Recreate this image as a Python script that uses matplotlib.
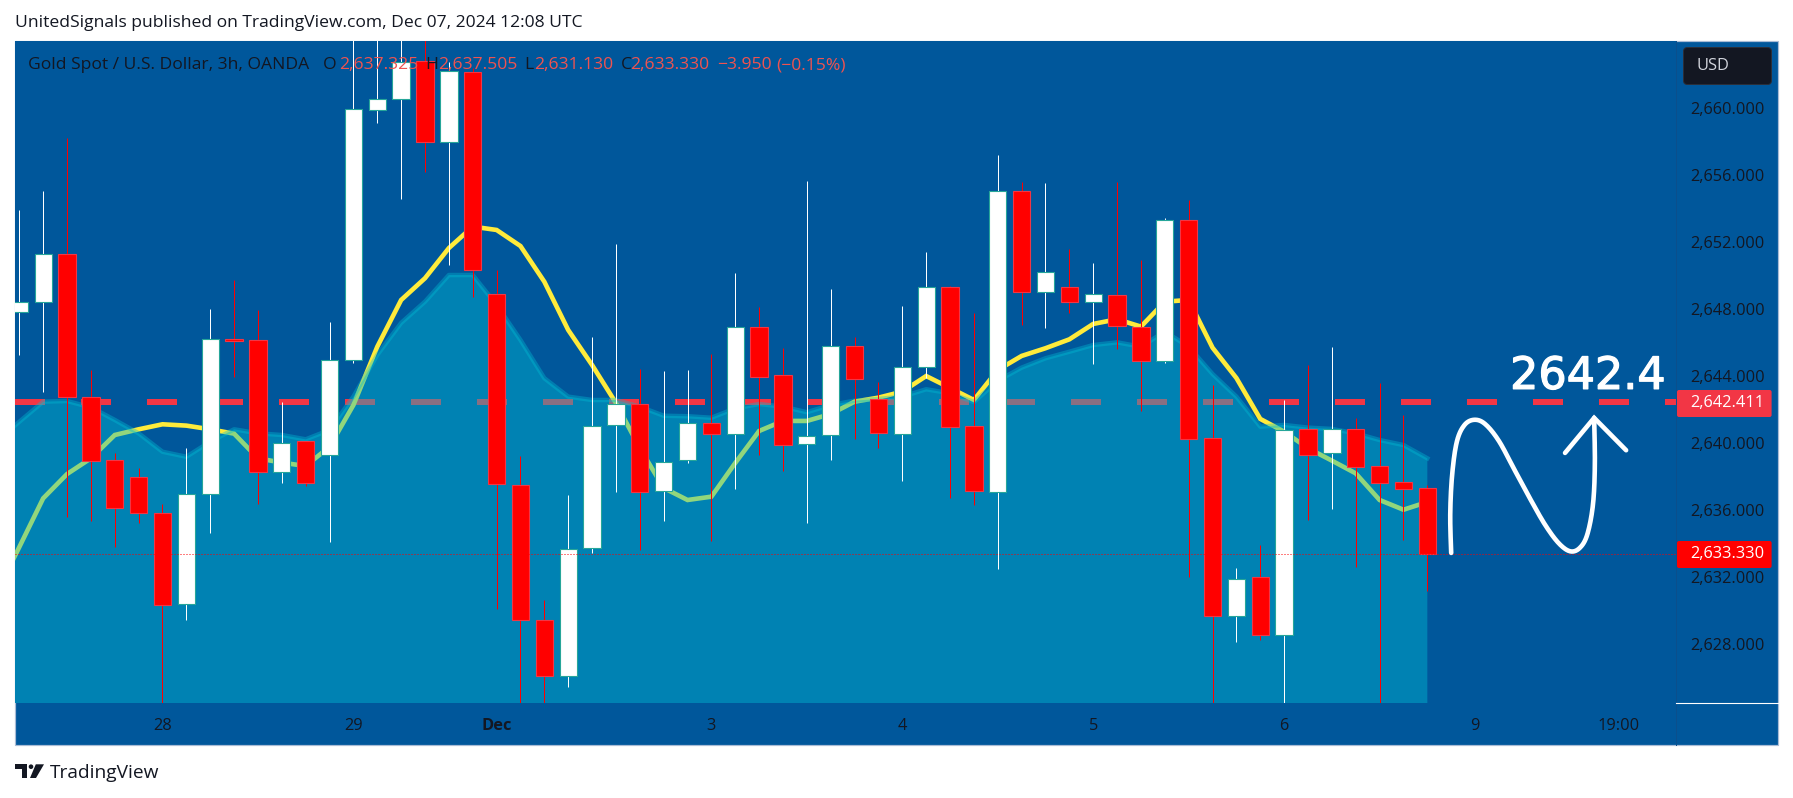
import numpy as np
import matplotlib
matplotlib.use("Agg")
import matplotlib.pyplot as plt
import matplotlib.patheffects as pe
from matplotlib.patches import Rectangle, FancyBboxPatch, Polygon, Circle

# ---------- data ----------
opens = [2647.79,2648.38,2651.25,2642.71,2638.95,2637.94,2635.79,2630.35,2636.92,2646.17,
         2646.11,2638.23,2640.08,2639.25,2644.92,2659.85,2660.54,2662.77,2657.93,2662.11,
         2648.88,2637.46,2629.40,2626.06,2633.70,2641.04,2642.29,2637.10,2638.95,2641.16,
         2640.50,2646.89,2644.02,2639.91,2640.44,2645.76,2642.61,2640.50,2644.50,2649.28,
         2640.98,2637.04,2655.01,2648.98,2649.28,2648.38,2648.80,2646.89,2644.86,2653.28,
         2640.26,2629.64,2631.97,2628.50,2640.80,2639.37,2640.80,2638.59,2637.64,2637.325]
closes = [2648.42,2651.25,2642.71,2638.93,2636.08,2635.79,2630.29,2636.92,2646.17,2646.05,
          2638.23,2639.97,2637.58,2644.92,2659.90,2660.54,2662.75,2657.93,2662.17,2650.29,
          2637.52,2629.40,2626.06,2633.67,2641.02,2642.29,2637.04,2638.87,2641.16,2640.50,
          2646.89,2643.94,2639.85,2640.42,2645.76,2643.82,2640.56,2644.50,2649.28,2640.92,
          2637.10,2655.01,2648.98,2650.17,2648.38,2648.86,2646.95,2644.86,2653.28,2640.24,
          2629.64,2631.88,2628.50,2640.78,2639.28,2640.80,2638.57,2637.61,2637.25,2633.33]
highs = [2653.89,2655.03,2658.21,2644.34,2639.37,2638.49,2636.34,2639.67,2647.98,2649.71,
         2647.92,2642.43,2640.08,2647.21,2665.50,2665.50,2665.50,2665.50,2662.73,2662.37,
         2650.31,2639.21,2630.63,2636.88,2646.31,2651.86,2644.38,2644.28,2644.34,2645.30,
         2650.13,2648.08,2645.65,2655.61,2649.18,2646.29,2643.62,2648.16,2651.39,2649.37,
         2647.73,2657.18,2655.58,2655.50,2651.55,2650.73,2655.55,2650.91,2653.40,2654.49,
         2643.45,2632.52,2633.89,2642.55,2644.62,2645.71,2641.48,2643.55,2641.65,2637.505]
lows = [2645.24,2643.05,2635.57,2635.33,2633.77,2635.21,2622.00,2629.43,2634.63,2643.94,
        2636.36,2637.61,2637.43,2634.09,2644.78,2659.09,2654.57,2656.18,2650.61,2648.72,
        2630.09,2622.00,2622.00,2625.43,2633.42,2637.06,2633.61,2635.34,2638.81,2634.15,
        2637.25,2639.28,2638.33,2635.22,2638.99,2640.24,2639.70,2637.73,2643.86,2636.72,
        2636.28,2632.46,2647.03,2646.87,2647.76,2644.72,2645.61,2641.91,2644.78,2631.97,
        2622.00,2628.08,2628.24,2622.00,2635.40,2636.06,2632.56,2622.00,2634.21,2631.13]
# moving averages start one bar before the first candle
ma_fast = [2630.90,2633.77,2636.68,2638.13,2639.07,2640.46,2640.80,2641.10,2641.02,2640.80,2640.54,
           2639.07,2638.81,2638.61,2639.76,2642.25,2645.73,2648.52,2649.82,2651.62,2652.90,
           2652.70,2651.74,2649.61,2646.73,2644.64,2642.37,2639.68,2637.30,2636.58,2636.78,
           2638.79,2640.70,2641.30,2641.30,2641.71,2642.45,2642.69,2643.05,2643.98,2643.27,
           2642.55,2644.34,2645.18,2645.64,2646.17,2647.09,2647.37,2646.93,2648.42,2648.52,
           2645.67,2643.86,2641.42,2640.66,2639.67,2638.93,2638.17,2636.58,2636.00,2636.46]
ma_area = [2640.00,2641.25,2642.45,2642.49,2642.11,2641.36,2640.56,2639.46,2639.16,2640.06,2640.80,
           2640.56,2640.46,2640.20,2640.76,2642.75,2645.24,2647.15,2648.42,2650.01,2650.01,
           2648.22,2646.13,2643.85,2642.75,2642.55,2642.55,2642.15,2641.61,2641.58,2641.49,
           2642.05,2642.31,2642.15,2641.82,2642.25,2642.51,2642.61,2642.75,2643.19,2642.95,
           2642.43,2643.70,2644.48,2645.04,2645.43,2645.83,2645.99,2645.73,2646.63,2645.73,
           2644.10,2642.75,2640.96,2641.06,2640.90,2640.82,2640.56,2640.16,2639.86,2639.07]
level_price = 2642.411
last_price = 2633.33
price_ticks = [2628, 2632, 2636, 2640, 2644, 2648, 2652, 2656, 2660]
time_tick_bars = [6, 14, 20, 29, 37, 45, 53, 61, 67]
time_tick_labels = ["28", "29", "Dec", "3", "4", "5", "6", "9", "19:00"]
sketch_bars = [60.0,59.96,60.04,60.24,60.57,61.0,61.45,62.01,62.65,63.29,63.93,64.5,64.98,65.38,65.7,65.94,66.02,65.99]
sketch_prices = [2633.42,2635.70,2638.09,2640.08,2641.08,2641.37,2641.08,2640.08,2638.39,2636.70,2635.11,2634.01,2633.52,2633.71,2634.51,2636.30,2638.69,2641.48]
arrow_bars = [64.77,65.99,67.33]
arrow_prices = [2639.39,2641.48,2639.55]

# ---------- styling ----------
W, H = 1793, 798
BG = "#00579b"
DARK = "#131722"
RED = "#f23645"
LEGEND_RED = "#ef5350"
plt.rcParams["font.family"] = ["Open Sans", "DejaVu Sans"]
PX = 0.72  # one pixel in points at dpi 100
FS_AXIS = 11.8
FS_HEAD = 12.6

fig = plt.figure(figsize=(W/100, H/100), dpi=100, facecolor="white")
L, R, T, B = 15.3, 1676.0, 41.0, 702.7
ax = fig.add_axes([L/W, 1-B/H, (R-L)/W, (B-T)/H], zorder=2)
deco = fig.add_axes([0, 0, 1, 1], zorder=1)
deco.set_xlim(0, W); deco.set_ylim(H, 0); deco.axis("off")
top = fig.add_axes([0, 0, 1, 1], zorder=3)
top.set_xlim(0, W); top.set_ylim(H, 0); top.axis("off"); top.patch.set_alpha(0)

deco.add_patch(Rectangle((15, 41), 1763, 704, fc=BG, ec="#a9bcd6", lw=PX*1.2))

ax.set_facecolor(BG)
ax.set_xlim(-0.168, 69.42)
ax.set_ylim(2624.48, 2663.98)
for s in ax.spines.values():
    s.set_visible(False)

x = np.arange(len(opens))
x_ma = np.arange(len(ma_fast)) - 1

ax.plot([ax.get_xlim()[0], ax.get_xlim()[1]], [level_price]*2, color=RED, lw=6*PX,
        linestyle=(0, (5, 6)), dash_capstyle="butt", zorder=1)
ax.plot(x_ma, ma_fast, color="#ffeb3b", lw=4.6*PX, zorder=2, solid_joinstyle="miter")
ax.fill_between(x_ma, ma_area, 2600, color="#00bcd4", alpha=0.43, lw=0, zorder=3)
ax.plot(x_ma, ma_area, color="#00bcd4", alpha=0.38, lw=4.5*PX, zorder=3.1)

# candles
up = np.array(closes) >= np.array(opens)
wick_col = ["#ffffff" if u else "#ff0000" for u in up]
wicks = ax.vlines(x, lows, highs, colors=wick_col, lw=PX, zorder=4)
wicks.set_snap(True)
body_bot = np.minimum(opens, closes)
body_h = np.abs(np.array(closes) - np.array(opens))
ax.bar(x, body_h, bottom=body_bot, width=0.725,
       color=["#ffffff" if u else "#ff0000" for u in up],
       edgecolor=["#26a69a" if u else "#f23645" for u in up],
       linewidth=PX*1.1, zorder=5)

ax.axhline(last_price, color="#ff0000", lw=PX, linestyle=(0, (1, 2)), zorder=6)

# sketch
def smooth(xs, ys, n=14):
    xs = np.array([xs[0]] + list(xs) + [xs[-1]])
    ys = np.array([ys[0]] + list(ys) + [ys[-1]])
    ox, oy = [], []
    for i in range(1, len(xs)-2):
        t = np.linspace(0, 1, n, endpoint=False)
        for arr, out in ((xs, ox), (ys, oy)):
            p0, p1, p2, p3 = arr[i-1], arr[i], arr[i+1], arr[i+2]
            out.extend(0.5*(2*p1 + (p2-p0)*t + (2*p0-5*p1+4*p2-p3)*t**2 + (3*p1-p0-3*p2+p3)*t**3))
    ox.append(xs[-1]); oy.append(ys[-1])
    return ox, oy
sx, sy = smooth(sketch_bars, sketch_prices)
ax.plot(sx, sy, color="white", lw=4.6*PX, solid_capstyle="round", solid_joinstyle="round", zorder=7)
ax.plot(arrow_bars, arrow_prices, color="white", lw=4.6*PX, solid_capstyle="round", solid_joinstyle="miter", zorder=7)
ax.text(65.73, level_price + 1.55, "2642.4", color="white", fontsize=32, family="DejaVu Sans", ha="center", va="center",
        zorder=8, path_effects=[pe.withStroke(linewidth=0.9, foreground="white")])

# ticks
ax.yaxis.tick_right()
ax.set_yticks(price_ticks)
ax.set_yticklabels([f"{p:,.3f}" for p in price_ticks], color=DARK, fontsize=FS_AXIS)
ax.set_xticks(time_tick_bars)
ax.set_xticklabels(time_tick_labels, color=DARK, fontsize=FS_AXIS)
ax.get_xticklabels()[2].set_fontweight("bold")
ax.tick_params(axis="both", length=0)
ax.tick_params(axis="y", pad=10.4)
ax.tick_params(axis="x", pad=10.8)

# price axis decorations
top.plot([1676, 1676], [41, 745], color="#0b4f8c", lw=PX)
top.plot([1676, 1778], [702.7, 702.7], color="white", lw=PX*1.1)
top.add_patch(FancyBboxPatch((1685, 49), 85, 34, boxstyle="round,pad=1.5,rounding_size=4", fc=DARK, ec="#2a2e39", lw=PX))
top.text(1696, 65.7, "USD", color="#d1d4dc", fontsize=FS_AXIS, va="center", ha="left")
top.add_patch(FancyBboxPatch((1678, 391), 92.6, 25, boxstyle="round,pad=1,rounding_size=2", fc=RED, ec="none"))
top.text(1690.5, 403, f"{level_price:,.3f}", color="white", fontsize=FS_AXIS, va="center", ha="left")
top.add_patch(FancyBboxPatch((1678, 542), 92.6, 25, boxstyle="round,pad=1,rounding_size=2", fc="#ff0000", ec="none"))
top.text(1690.5, 554.5, f"{last_price:,.3f}", color="white", fontsize=FS_AXIS, va="center", ha="left")

# header and legend
top.text(15.3, 22.7, "UnitedSignals published on TradingView.com, Dec 07, 2024 12:08 UTC",
         color=DARK, fontsize=FS_HEAD, va="center", ha="left")
legend_y = 65
legend_parts = [(27.5, "Gold Spot / U.S. Dollar, 3h, OANDA", DARK), (323, "O", DARK), (338.7, "2,637.325", LEGEND_RED),
                (425.6, "H", DARK), (438, "2,637.505", LEGEND_RED), (524.3, "L", DARK), (533.9, "2,631.130", LEGEND_RED),
                (621, "C", DARK), (630.6, "2,633.330", LEGEND_RED), (717.5, "\u22123.950", LEGEND_RED), (776, "(\u22120.15%)", LEGEND_RED)]
for px_x, s, c in legend_parts:
    top.text(px_x, legend_y, s, color=c, fontsize=FS_HEAD, va="center", ha="left")

# logo
top.add_patch(Polygon([(15, 764.3), (27, 764.3), (27, 778), (21.5, 778), (21.5, 768.6), (15, 768.6)], fc=DARK, ec="none"))
top.add_patch(Circle((31, 766.7), 2.3, fc=DARK, ec="none"))
top.add_patch(Polygon([(35.8, 764.3), (44, 764.3), (36, 778), (30, 778)], fc=DARK, ec="none"))
top.text(50, 777.7, "TradingView", color=DARK, fontsize=13.8, va="baseline", ha="left")

fig.savefig("out.png", dpi=100, facecolor="white")
